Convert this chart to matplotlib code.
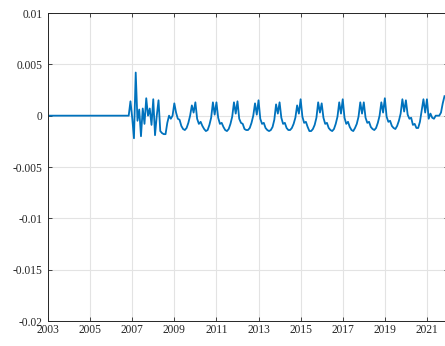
import numpy as np
import matplotlib.pyplot as plt

plt.rcParams['font.family'] = ['Liberation Serif', 'DejaVu Serif']

# monthly series, Jan 2003 onward
flat_2003_2006 = [0.0] * 47
dec_2006 = [0.0014]
y2007 = [-0.0002, -0.0022, 0.0042, -0.0005, 0.0006, -0.0020, 0.0007, -0.0008, 0.0017, 0.0000, 0.0007, -0.0009]
y2008 = [0.0016, -0.0019, 0.0000, 0.0015, -0.0015, -0.0017, -0.0018, -0.0018, -0.0007, 0.0000, -0.0003, 0.0000]
y2009 = [0.0012, 0.0003, -0.0003, -0.0004, -0.0010, -0.0013, -0.0014, -0.0012, -0.0007, 0.0000, 0.0010, 0.0003]
y2010 = [0.0013, -0.0003, -0.0008, -0.0006, -0.0010, -0.0013, -0.0015, -0.0014, -0.0009, -0.0002, 0.0013, 0.0001]
y2011 = [0.0013, -0.0002, -0.0008, -0.0007, -0.0011, -0.0014, -0.0015, -0.0013, -0.0008, -0.0001, 0.0013, 0.0002]
y2012 = [0.0014, -0.0003, -0.0007, -0.0008, -0.0013, -0.0014, -0.0014, -0.0012, -0.0007, 0.0000, 0.0012, 0.0001]
y2013 = [0.0015, -0.0003, -0.0008, -0.0007, -0.0012, -0.0014, -0.0015, -0.0014, -0.0011, -0.0004, 0.0011, 0.0002]
y2014 = [0.0013, -0.0002, -0.0008, -0.0007, -0.0012, -0.0014, -0.0014, -0.0012, -0.0008, -0.0002, 0.0010, 0.0002]
y2015 = [0.0016, -0.0001, -0.0007, -0.0006, -0.0011, -0.0015, -0.0015, -0.0013, -0.0009, -0.0002, 0.0013, 0.0003]
y2016 = [0.0012, -0.0002, -0.0008, -0.0007, -0.0012, -0.0014, -0.0015, -0.0013, -0.0008, -0.0001, 0.0013, 0.0002]
y2017 = [0.0016, -0.0002, -0.0008, -0.0006, -0.0011, -0.0014, -0.0015, -0.0012, -0.0008, -0.0001, 0.0013, 0.0002]
y2018 = [0.0013, -0.0002, -0.0007, -0.0006, -0.0011, -0.0013, -0.0014, -0.0012, -0.0007, 0.0000, 0.0013, 0.0003]
y2019 = [0.0017, -0.0001, -0.0006, -0.0005, -0.0010, -0.0012, -0.0013, -0.0010, -0.0005, 0.0002, 0.0016, 0.0004]
y2020 = [0.0015, 0.0001, -0.0003, -0.0002, -0.0009, -0.0008, -0.0012, -0.0012, -0.0006, 0.0005, 0.0016, 0.0003]
y2021 = [0.0016, -0.0003, 0.0002, -0.0002, -0.0003, 0.0000, 0.0000, 0.0000, 0.0003, 0.0012, 0.0019]

xticks = [2003, 2005, 2007, 2009, 2011, 2013, 2015, 2017, 2019, 2021]
yticks = [-0.02, -0.015, -0.01, -0.005, 0, 0.005, 0.01]
ytick_labels = ['-0.02', '-0.015', '-0.01', '-0.005', '0', '0.005', '0.01']

values = np.array(flat_2003_2006 + dec_2006 + y2007 + y2008 + y2009 + y2010 + y2011
                  + y2012 + y2013 + y2014 + y2015 + y2016 + y2017 + y2018 + y2019
                  + y2020 + y2021)
t = 2003 + np.arange(len(values)) / 12

fig = plt.figure(figsize=(4.45, 3.46), dpi=100)
ax = fig.add_axes([48 / 445, 25 / 346, 400 / 445, 308 / 346])

ax.plot(t, values, color='#0072BD', linewidth=1.3)

ax.set_xlim(2003, 2022)
ax.set_ylim(-0.02, 0.01)
ax.set_xticks(xticks)
ax.set_yticks(yticks)
ax.set_yticklabels(ytick_labels)

ax.grid(True, color='#e3e3e3', linewidth=0.8)
ax.set_axisbelow(True)
for s in ax.spines.values():
    s.set_color('#262626')
    s.set_linewidth(0.7)
ax.tick_params(direction='in', length=3, width=0.6, color='#262626',
               labelsize=8.3, labelcolor='#262626', top=True, right=True)
ax.tick_params(axis='x', pad=2)
ax.tick_params(axis='y', pad=4)

fig.savefig('out.png', dpi=100)
